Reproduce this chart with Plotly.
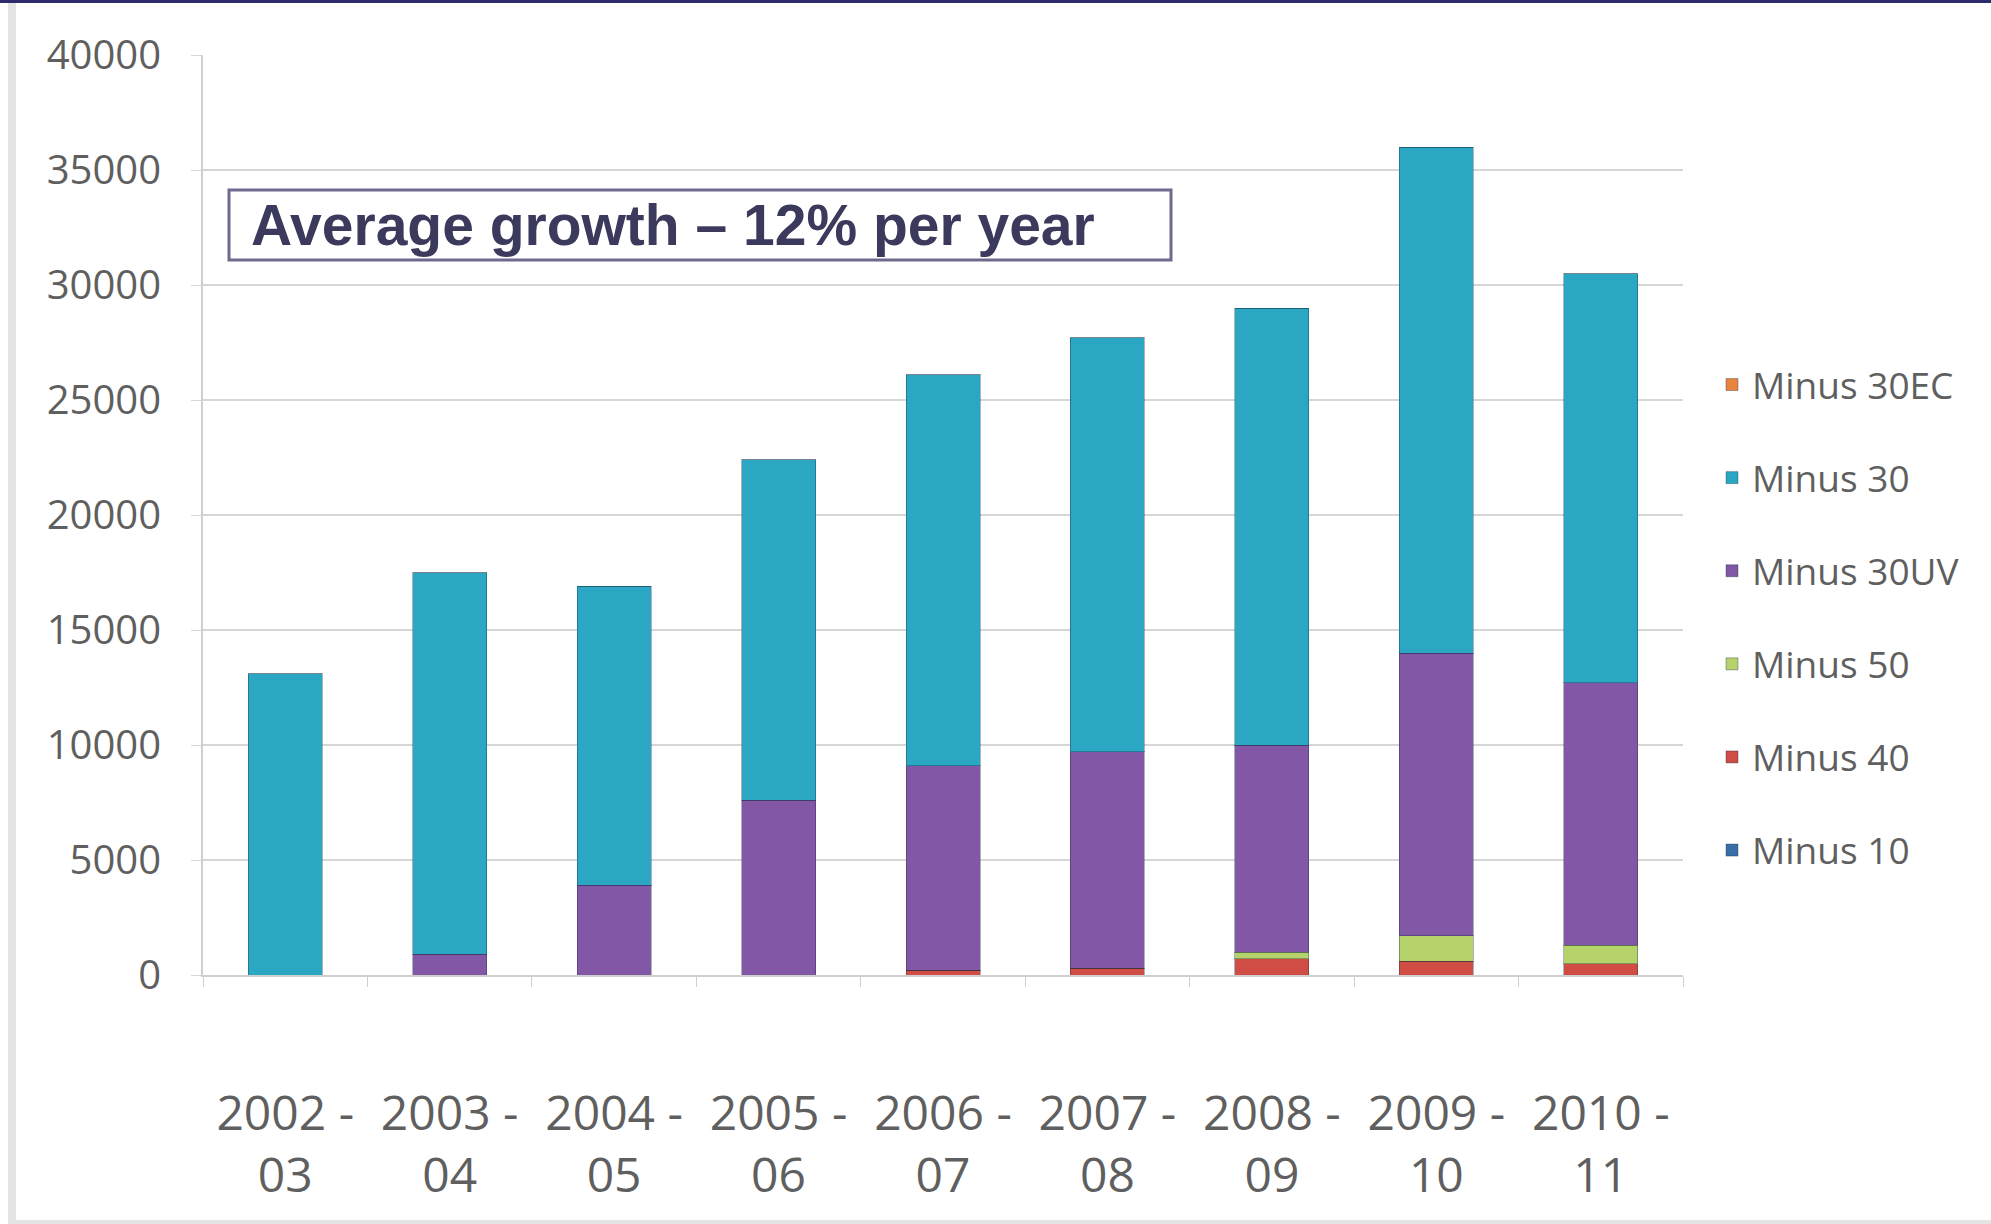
import plotly.graph_objects as go

categories = ["2002 -<br>03", "2003 -<br>04", "2004 -<br>05", "2005 -<br>06", "2006 -<br>07",
              "2007 -<br>08", "2008 -<br>09", "2009 -<br>10", "2010 -<br>11"]

minus_10 = [0, 0, 0, 0, 0, 0, 0, 0, 0]
minus_40 = [0, 0, 0, 0, 200, 300, 700, 600, 500]
minus_50 = [0, 0, 0, 0, 0, 0, 300, 1100, 800]
minus_30uv = [0, 900, 3900, 7600, 8900, 9400, 9000, 12300, 11400]
minus_30 = [13100, 16600, 13000, 14800, 17000, 18000, 19000, 22000, 17800]
minus_30ec = [0, 0, 0, 0, 0, 0, 0, 0, 0]

series = [
    ("Minus 10", minus_10, "#3a6ea8"),
    ("Minus 40", minus_40, "#cf4d45"),
    ("Minus 50", minus_50, "#b5d36a"),
    ("Minus 30UV", minus_30uv, "#8257a6"),
    ("Minus 30", minus_30, "#2ba6c3"),
    ("Minus 30EC", minus_30ec, "#e8843e"),
]

W, H = 1991, 1224
L, R, T, B = 203, 308, 55, 249
PW, PH = W - L - R, H - T - B

fig = go.Figure()
n = len(series)
for i, (name, vals, col) in enumerate(series):
    fig.add_trace(go.Bar(
        x=categories, y=vals, name=name, legendgroup=name,
        legendrank=n - i,
        marker=dict(color=col, line=dict(color="rgba(20,40,60,0.35)", width=1)),
        width=0.45,
    ))

def px_x(p):
    return (p - L) / PW

def px_y(p):
    return (H - B - p) / PH

shapes = [
    # annotation box
    dict(type="rect", xref="paper", yref="paper",
         x0=px_x(229), x1=px_x(1171), y0=px_y(260), y1=px_y(190),
         line=dict(color="#6e6a8e", width=3), fillcolor="white", layer="above"),
    # top navy border
    dict(type="rect", xref="paper", yref="paper",
         x0=px_x(0), x1=px_x(W), y0=px_y(3), y1=px_y(0),
         line=dict(width=0), fillcolor="#2c2c6c"),
    # left gray edge
    dict(type="rect", xref="paper", yref="paper",
         x0=px_x(8), x1=px_x(16), y0=px_y(H), y1=px_y(3),
         line=dict(width=0), fillcolor="#e4e4e4"),
    # bottom gray edge
    dict(type="rect", xref="paper", yref="paper",
         x0=px_x(8), x1=px_x(W), y0=px_y(H), y1=px_y(H - 4),
         line=dict(width=0), fillcolor="#e4e4e4"),
]

fig.update_layout(
    width=W, height=H,
    margin=dict(l=L, r=R, t=T, b=B),
    barmode="stack",
    paper_bgcolor="white", plot_bgcolor="white",
    font=dict(family="Open Sans", color="#5f5f5f"),
    shapes=shapes,
    annotations=[dict(
        xref="paper", yref="paper", x=px_x(249), y=px_y(225),
        xanchor="left", yanchor="middle", showarrow=False,
        text="<b>Average growth – 12% per year</b>",
        font=dict(family="Liberation Sans", size=57, color="#3b3a5c"),
    )],
    legend=dict(
        x=px_x(1712), y=px_y(354), xanchor="left", yanchor="top",
        traceorder="grouped", tracegroupgap=42,
        font=dict(size=37, color="#5f5f5f", family="Open Sans"),
        bgcolor="rgba(0,0,0,0)",
    ),
    xaxis=dict(
        tickson="boundaries", ticks="outside", ticklen=10, tickcolor="#cfcfcf",
        showgrid=False, showline=True, linecolor="#cfcfcf", linewidth=2,
        tickfont=dict(size=48, color="#5f5f5f"), ticklabelstandoff=95,
    ),
    yaxis=dict(
        range=[0, 40000], dtick=5000, tickformat="d",
        showgrid=True, gridcolor="#d6d6d6", gridwidth=2,
        showline=True, linecolor="#cfcfcf", linewidth=2,
        ticks="outside", ticklen=10, tickcolor="#d6d6d6",
        tickfont=dict(size=40, color="#5f5f5f"), ticklabelstandoff=22,
        zeroline=False,
    ),
)

fig.write_html("out.html")
